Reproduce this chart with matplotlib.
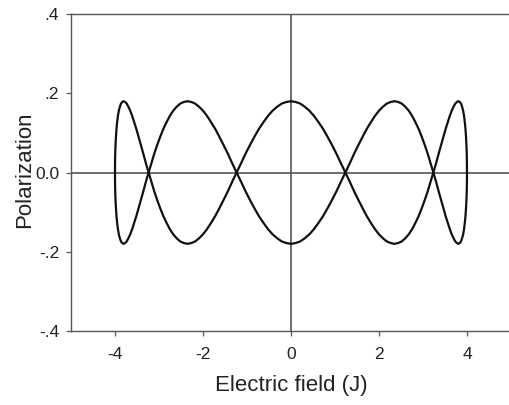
import matplotlib
matplotlib.use("Agg")
import matplotlib.pyplot as plt

plt.rcParams['font.family'] = ['Liberation Sans', 'DejaVu Sans']

# electric field values along one branch of the loop
field = [4.000, 3.999, 3.995, 3.988, 3.978, 3.966, 3.951, 3.933, 3.913, 3.889,
         3.864, 3.835, 3.804, 3.771, 3.734, 3.696, 3.654, 3.610, 3.564, 3.515,
         3.464, 3.411, 3.355, 3.297, 3.236, 3.173, 3.109, 3.042, 2.973, 2.901,
         2.828, 2.753, 2.677, 2.598, 2.517, 2.435, 2.351, 2.266, 2.179, 2.090,
         2.000, 1.909, 1.816, 1.722, 1.627, 1.531, 1.433, 1.335, 1.236, 1.136,
         1.035, 0.934, 0.832, 0.729, 0.626, 0.522, 0.418, 0.314, 0.209, 0.105,
         0.000,
         -0.105, -0.209, -0.314, -0.418, -0.522, -0.626, -0.729, -0.832, -0.934, -1.035,
         -1.136, -1.236, -1.335, -1.433, -1.531, -1.627, -1.722, -1.816, -1.909, -2.000,
         -2.090, -2.179, -2.266, -2.351, -2.435, -2.517, -2.598, -2.677, -2.753, -2.828,
         -2.901, -2.973, -3.042, -3.109, -3.173, -3.236, -3.297, -3.355, -3.411, -3.464,
         -3.515, -3.564, -3.610, -3.654, -3.696, -3.734, -3.771, -3.804, -3.835, -3.864,
         -3.889, -3.913, -3.933, -3.951, -3.966, -3.978, -3.988, -3.995, -3.999, -4.000]

# polarization on the first branch
pol_a = [0.0, 0.023, 0.047, 0.069, 0.090, 0.110, 0.127, 0.143, 0.156, 0.166, 0.174, 0.178,
         0.180, 0.178, 0.174, 0.166, 0.156, 0.143, 0.127, 0.110, 0.090, 0.069, 0.047, 0.023,
         0.0, -0.023, -0.047, -0.069, -0.090, -0.110, -0.127, -0.143, -0.156, -0.166, -0.174, -0.178,
         -0.180, -0.178, -0.174, -0.166, -0.156, -0.143, -0.127, -0.110, -0.090, -0.069, -0.047, -0.023,
         0.0, 0.023, 0.047, 0.069, 0.090, 0.110, 0.127, 0.143, 0.156, 0.166, 0.174, 0.178,
         0.180, 0.178, 0.174, 0.166, 0.156, 0.143, 0.127, 0.110, 0.090, 0.069, 0.047, 0.023,
         0.0, -0.023, -0.047, -0.069, -0.090, -0.110, -0.127, -0.143, -0.156, -0.166, -0.174, -0.178,
         -0.180, -0.178, -0.174, -0.166, -0.156, -0.143, -0.127, -0.110, -0.090, -0.069, -0.047, -0.023,
         0.0, 0.023, 0.047, 0.069, 0.090, 0.110, 0.127, 0.143, 0.156, 0.166, 0.174, 0.178,
         0.180, 0.178, 0.174, 0.166, 0.156, 0.143, 0.127, 0.110, 0.090, 0.069, 0.047, 0.023,
         0.0]

# polarization on the return branch
pol_b = [0.0, -0.023, -0.047, -0.069, -0.090, -0.110, -0.127, -0.143, -0.156, -0.166, -0.174, -0.178,
         -0.180, -0.178, -0.174, -0.166, -0.156, -0.143, -0.127, -0.110, -0.090, -0.069, -0.047, -0.023,
         0.0, 0.023, 0.047, 0.069, 0.090, 0.110, 0.127, 0.143, 0.156, 0.166, 0.174, 0.178,
         0.180, 0.178, 0.174, 0.166, 0.156, 0.143, 0.127, 0.110, 0.090, 0.069, 0.047, 0.023,
         0.0, -0.023, -0.047, -0.069, -0.090, -0.110, -0.127, -0.143, -0.156, -0.166, -0.174, -0.178,
         -0.180, -0.178, -0.174, -0.166, -0.156, -0.143, -0.127, -0.110, -0.090, -0.069, -0.047, -0.023,
         0.0, 0.023, 0.047, 0.069, 0.090, 0.110, 0.127, 0.143, 0.156, 0.166, 0.174, 0.178,
         0.180, 0.178, 0.174, 0.166, 0.156, 0.143, 0.127, 0.110, 0.090, 0.069, 0.047, 0.023,
         0.0, -0.023, -0.047, -0.069, -0.090, -0.110, -0.127, -0.143, -0.156, -0.166, -0.174, -0.178,
         -0.180, -0.178, -0.174, -0.166, -0.156, -0.143, -0.127, -0.110, -0.090, -0.069, -0.047, -0.023,
         0.0]

xticks = [-4, -2, 0, 2, 4]
yticks = [-0.4, -0.2, 0.0, 0.2, 0.4]
ytick_labels = ["-.4", "-.2", "0.0", ".2", ".4"]

fig = plt.figure(figsize=(5.1, 4.05), dpi=100)
ax = fig.add_axes([0.1392, 0.1827, 0.8627, 0.7827])

axis_col = "#555555"
ax.axhline(0, color=axis_col, lw=1.2, zorder=1)
ax.axvline(0, color=axis_col, lw=1.2, zorder=1)

ax.plot(field, pol_a, color="#111111", lw=1.6, zorder=3)
ax.plot(field, pol_b, color="#111111", lw=1.6, zorder=3)

ax.set_xlim(-5, 5)
ax.set_ylim(-0.4, 0.4)
ax.set_xticks(xticks)
ax.set_xticklabels([str(t) for t in xticks])
ax.set_yticks(yticks)
ax.set_yticklabels(ytick_labels)

ax.spines['right'].set_visible(False)
for s in ['top', 'left', 'bottom']:
    ax.spines[s].set_color(axis_col)
    ax.spines[s].set_linewidth(1.0)

ax.tick_params(direction='out', length=3.6, width=0.9, color=axis_col,
               labelsize=12.5, labelcolor="#222222", pad=5)
ax.tick_params(axis='x', pad=8)

ax.set_xlabel("Electric field (J)", fontsize=16, color="#222222")
ax.set_ylabel("Polarization", fontsize=16, color="#222222")
ax.xaxis.set_label_coords(0.5, -0.14)
ax.yaxis.set_label_coords(-0.081, 0.51)

fig.savefig("out.png", dpi=100)
